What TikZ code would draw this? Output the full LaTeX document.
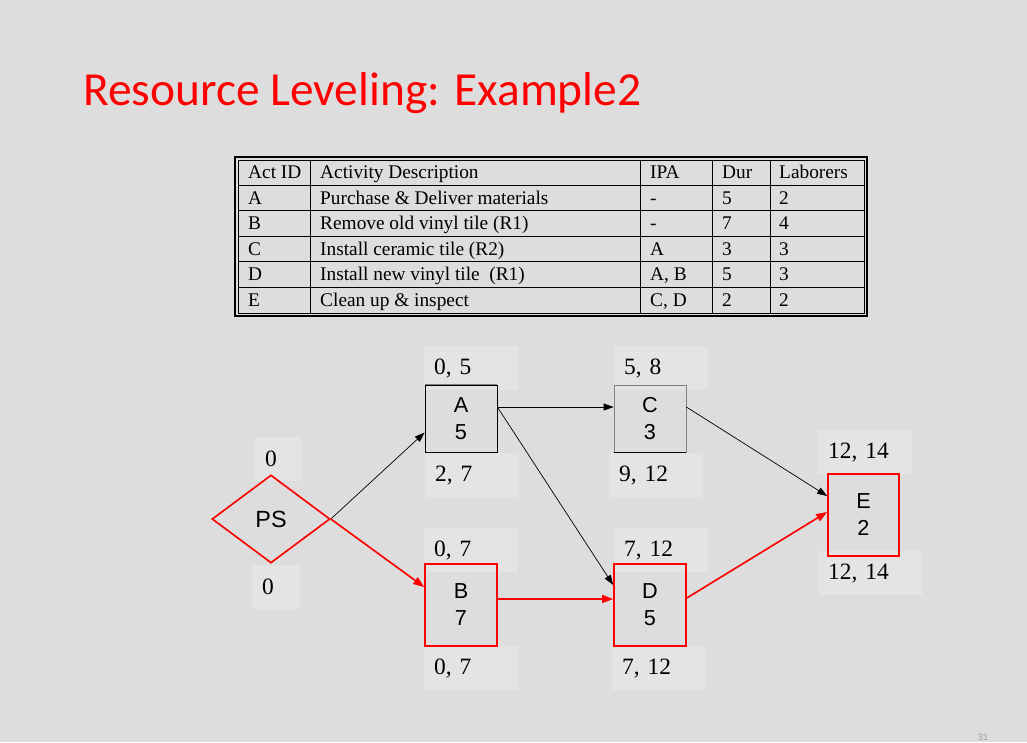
\documentclass[tikz,border=0pt]{standalone}
\usepackage{fontspec}
\setmainfont{Liberation Serif}
\setsansfont{Liberation Sans}
\newfontfamily\titlefont{Carlito}
\usetikzlibrary{arrows.meta,positioning,calc,shapes.geometric}

\definecolor{slidebg}{RGB}{221,221,221}
\definecolor{labelbg}{RGB}{228,228,228}
\definecolor{boxgray}{RGB}{128,128,128}
\definecolor{pagenum}{RGB}{150,160,180}

\newcommand{\tblfont}{\fontsize{16.5}{18}\selectfont}
\newcommand{\lblfont}{\fontsize{20}{24}\selectfont}
\newcommand{\actfont}{\sffamily\fontsize{18.5}{23}\selectfont}

\begin{document}
\begin{tikzpicture}[x=0.3mm,y=-0.3mm,
  act/.style={draw,line width=0.6pt,minimum width=21.6mm,minimum height=20.1mm,
    inner sep=0pt,align=center,font=\actfont},
  crit/.style={act,draw=red,line width=1.4pt,minimum height=24.6mm},
  lbl/.style={fill=labelbg,anchor=north west,inner xsep=3mm,inner ysep=0pt,
    minimum height=13.2mm,text width=#1,align=left,font=\lblfont},
  lbl/.default=22.2mm,
  cell/.style={anchor=base west,inner sep=0pt,font=\tblfont},
  flow/.style={line width=0.6pt,-{Triangle[length=3mm,width=2.1mm]}},
  critflow/.style={draw=red,line width=1.4pt,-{Triangle[length=3.3mm,width=2.4mm]}}]

\fill[slidebg] (0,0) rectangle (1027,742);
\useasboundingbox (0,0) rectangle (1027,742);

% title
\node[anchor=base west,inner sep=0pt,text=red,font=\titlefont\fontsize{40.5}{48}\selectfont]
  (title) at (83,105) {Resource Leveling: Example2};

% activity table
\draw[line width=1pt] (235,157) rectangle (867,316);
\draw[line width=0.8pt] (238,160) rectangle (864,313);
\foreach \k in {0,...,4}
  \draw[line width=0.8pt] (238,185+25.5*\k) -- (864,185+25.5*\k);
\foreach \cx in {310,640,712,770}
  \draw[line width=0.8pt] (\cx,160) -- (\cx,313);
\foreach \id/\desc/\ipa/\dur/\lab [count=\i from 0] in {
    Act ID/Activity Description/IPA/Dur/Laborers,
    A/Purchase \& Deliver materials/-/5/2,
    B/Remove old vinyl tile (R1)/-/7/4,
    C/Install ceramic tile (R2)/A/3/3,
    D/Install new vinyl tile\ \ (R1)/{A, B}/5/3,
    E/Clean up \& inspect/{C, D}/2/2}{
  \node[cell] (id-\i) at (248,178.5+25.5*\i) {\id};
  \node[cell] (desc-\i) at (320,178.5+25.5*\i) {\desc};
  \node[cell] (ipa-\i) at (650,178.5+25.5*\i) {\ipa};
  \node[cell] (dur-\i) at (722,178.5+25.5*\i) {\dur};
  \node[cell] (lab-\i) at (779,178.5+25.5*\i) {\lab};
}

% early / late times
\node[lbl=8.1mm] (ps-es) at (255,437) {0};
\node[lbl=8.4mm] (ps-ls) at (252,565) {0};
\node[lbl] (a-es) at (424,346) {0, 5};
\node[lbl] (a-ls) at (425,453) {2, 7};
\node[lbl] (c-es) at (614,346) {5, 8};
\node[lbl] (c-ls) at (609,453) {9, 12};
\node[lbl] (b-es) at (424,528) {0, 7};
\node[lbl] (b-ls) at (424,646) {0, 7};
\node[lbl] (d-es) at (614,528) {7, 12};
\node[lbl] (d-ls) at (612,646) {7, 12};
\node[lbl] (e-es) at (818,430) {12, 14};
\node[lbl=25.2mm] (e-ls) at (818,551) {12, 14};

% network
\node[diamond,draw=red,line width=1.4pt,minimum width=35.4mm,minimum height=26.4mm,
  inner sep=0pt,font=\sffamily\fontsize{20}{24}\selectfont] (PS) at (271,519) {PS};
\node[act] (A) at (461,418.5) {A\\5};
\node[act,draw=boxgray] (C) at (650,418.5) {C\\3};
\node[crit] (B) at (461,605) {B\\7};
\node[crit] (D) at (650,605) {D\\5};
\node[crit,minimum width=21.3mm] (E) at (863.5,515) {E\\2};
\draw[boxgray,line width=0.8pt] (A.north west) -- (A.north east);
\draw[line width=0.6pt] (C.south west) -- (C.south east);

\draw[flow] (PS.east) -- ($(A.west)+(0,14)$);
\draw[critflow] (PS.east) -- ($(B.west)+(0,-18)$);
\draw[flow] ($(A.east)+(0,-11.5)$) -- ($(C.west)+(0,-11.5)$);
\draw[flow] ($(A.east)+(0,-11.5)$) -- ($(D.west)+(0,-20)$);
\draw[critflow] ($(B.east)+(0,-6)$) -- ($(D.west)+(0,-6)$);
\draw[flow] ($(C.east)+(0,-11.5)$) -- ($(E.west)+(0,-19)$);
\draw[critflow] ($(D.east)+(0,-7)$) -- ($(E.west)+(0,-3)$);

% slide number
\node[anchor=south,inner sep=0pt,text=pagenum,font=\sffamily\fontsize{8}{10}\selectfont]
  (pageno) at (983,741) {31};
\end{tikzpicture}
\end{document}
